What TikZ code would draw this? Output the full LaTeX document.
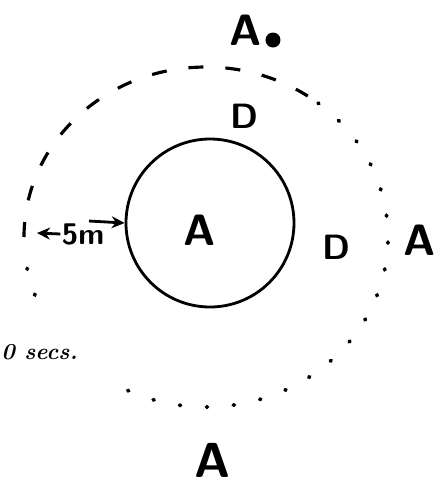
\documentclass[tikz,border=0pt]{standalone}
\usepackage{tikz}
\usetikzlibrary{arrows.meta,positioning}
\definecolor{inkcolor}{RGB}{0,0,0}

\begin{document}
\begin{tikzpicture}[x=0.2mm,y=-0.2mm,line width=1.6pt,color=inkcolor,
    bigA/.style={font=\sffamily\bfseries\fontsize{25}{27}\selectfont,inner sep=0pt},
    dlabel/.style={font=\sffamily\bfseries\fontsize{20}{22}\selectfont,inner sep=0pt},
    ringdash/.style={line width=1.8pt,dash pattern=on 3mm off 4.4mm},
    ringdot/.style={line width=2.2pt,line cap=round,dash pattern=on 0.2mm off 5.2mm}]
  \useasboundingbox (0,0) rectangle (446,495);
  % inner zone
  \node[draw,circle,minimum size=33.6mm,inner sep=0pt] (core) at (210,223) {};
  \node[bigA] (coreA) at (200,230) {A};
  % outer ring, dashed part then dotted part
  \coordinate (ringC) at (206,237);
  \draw[ringdash] (ringC) ++(180:182 and 170) arc[start angle=180,end angle=304,x radius=182,y radius=170];
  \draw[ringdot] (ringC) ++(308:182 and 170) arc[start angle=308,end angle=481,x radius=182,y radius=170];
  \draw[ringdot] (ringC) ++(160:182 and 170) arc[start angle=160,end angle=177,x radius=182,y radius=170];
  % labels round the ring
  \node[dlabel] (upD) at (244,116) {D};
  \node[dlabel] (rightD) at (336,247) {D};
  \node[bigA] (rightA) at (420,240) {A};
  \node[bigA,font=\sffamily\bfseries\fontsize{28}{30}\selectfont] (bottomA) at (213,460) {A};
  \node[bigA] (topA) at (246,30) {A};
  \node[circle,fill,inner sep=0pt,minimum size=3mm] (topdot) at (273,40) {};
  % distance mark
  \node[font=\sffamily\bfseries\fontsize{17}{19}\selectfont,inner sep=0pt] (dist) at (83,234) {5m};
  \coordinate (gap) at (37,233);
  \coordinate (tailR) at (89,221);
  \draw[-{Stealth[length=2.6mm,width=2.4mm]}] (dist.west) -- (gap);
  \draw[-{Stealth[length=2.6mm,width=2.4mm]}] (tailR) -- (core.west);
  \node[anchor=west,font=\bfseries\itshape\fontsize{13}{15}\selectfont,inner sep=0pt] (secs) at (0,352) {0 secs.};
\end{tikzpicture}
\end{document}
